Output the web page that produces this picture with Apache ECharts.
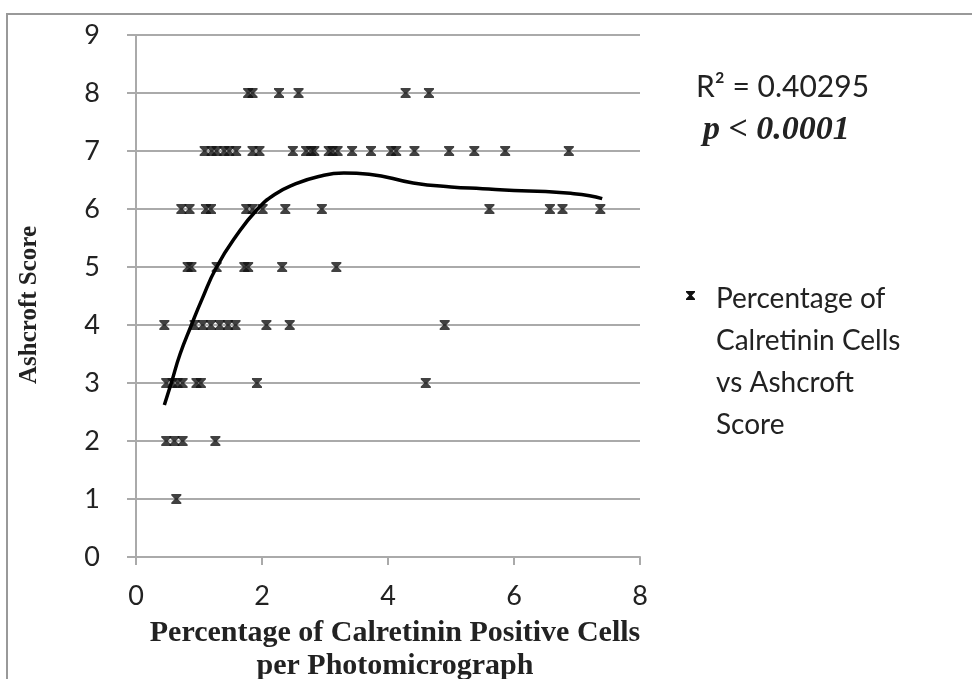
<!DOCTYPE html>
<html lang="en">
<head>
<meta charset="UTF-8" />
<title>Calretinin vs Ashcroft</title>
<script src="https://cdn.jsdelivr.net/npm/echarts@6.0.0/dist/echarts.min.js"></script>
<style>
  html, body { margin: 0; padding: 0; background: #fff; }
  #lienzo { width: 972px; height: 679px; }
</style>
</head>
<body>
<div id="lienzo"></div>
<script>
// percentage of calretinin positive cells, grouped by ashcroft score
const score8 = [1.78, 1.85, 2.27, 2.58, 4.28, 4.65];
const score7 = [1.09, 1.2, 1.28, 1.4, 1.48, 1.59, 1.85, 1.96, 2.49, 2.7, 2.78, 2.83, 3.06, 3.12, 3.2, 3.43, 3.73, 4.05, 4.13, 4.42, 4.97, 5.37, 5.86, 6.87];
const score6 = [0.72, 0.85, 1.11, 1.19, 1.75, 1.85, 2.01, 2.37, 2.95, 5.61, 6.57, 6.77, 7.37];
const score5 = [0.82, 0.88, 1.28, 1.72, 1.78, 2.32, 3.18];
const score4 = [0.45, 0.93, 1.06, 1.19, 1.33, 1.46, 1.58, 2.07, 2.44, 4.9];
const score3 = [0.48, 0.58, 0.66, 0.74, 0.96, 1.03, 1.92, 4.6];
const score2 = [0.48, 0.61, 0.74, 1.26];
const score1 = [0.64];

// trend line
const trendX = [0.45, 0.56, 0.7, 0.88, 1.05, 1.28, 1.6, 1.93, 2.2, 2.5, 2.9, 3.3, 3.7, 4.4, 5.0, 5.5, 6.0, 6.5, 6.9, 7.2, 7.4];
const trendY = [2.62, 3.0, 3.5, 4.0, 4.45, 5.0, 5.55, 6.0, 6.25, 6.42, 6.56, 6.62, 6.6, 6.45, 6.38, 6.35, 6.32, 6.3, 6.27, 6.23, 6.18];

const xTicks = [0, 2, 4, 6, 8];
const yTicks = [0, 1, 2, 3, 4, 5, 6, 7, 8, 9];

const grupos = [[8, score8], [7, score7], [6, score6], [5, score5], [4, score4], [3, score3], [2, score2], [1, score1]];
let puntos = [];
grupos.forEach(([y, xs]) => xs.forEach(x => puntos.push([x, y])));
const tendencia = trendX.map((x, i) => [x, trendY[i]]);

const marca = 'path://M0,0 L10,0 L10,1.5 L6.5,5 L10,8.5 L10,10 L0,10 L0,8.5 L3.5,5 L0,1.5 Z';
const gris = '#aaaaaa';

// hourglass for the hand-made legend
const lx = 686, ly = 291, s = 0.9;
const relojArena = [[0,0],[10,0],[10,1.5],[6.5,5],[10,8.5],[10,10],[0,10],[0,8.5],[3.5,5],[0,1.5]]
  .map(p => [lx + p[0] * s, ly + p[1] * s]);

let myChart = echarts.init(document.getElementById('lienzo'));
myChart.setOption({
  animation: false,
  grid: { left: 136, right: 332, top: 35, bottom: 122, containLabel: false, outerBoundsMode: 'none' },
  xAxis: {
    type: 'value',
    min: xTicks[0], max: xTicks[xTicks.length - 1], interval: 2,
    name: 'Percentage of Calretinin Positive Cells\nper Photomicrograph',
    nameLocation: 'center',
    nameGap: 60,
    nameTextStyle: { fontFamily: 'Liberation Serif', fontWeight: 'bold', fontSize: 30, color: '#222', lineHeight: 33, padding: [0, 0, 0, 14] },
    axisLine: { lineStyle: { color: gris, width: 2 } },
    axisTick: { show: true, length: 8, lineStyle: { color: gris, width: 2 } },
    axisLabel: { fontFamily: 'Lato', fontSize: 27, color: '#222', margin: 26 },
    splitLine: { show: false }
  },
  yAxis: {
    type: 'value',
    min: yTicks[0], max: yTicks[yTicks.length - 1], interval: 1,
    name: 'Ashcroft Score',
    nameLocation: 'center',
    nameGap: 94,
    nameTextStyle: { fontFamily: 'Liberation Serif', fontWeight: 'bold', fontSize: 25, color: '#222', padding: [0, 18, 0, 0] },
    axisLine: { show: true, lineStyle: { color: gris, width: 2 } },
    axisTick: { show: true, length: 9, lineStyle: { color: gris, width: 2 } },
    axisLabel: { fontFamily: 'Lato', fontSize: 27, color: '#222', margin: 36 },
    splitLine: { show: true, lineStyle: { color: gris, width: 2 } }
  },
  series: [
    {
      name: 'Percentage of Calretinin Cells vs Ashcroft Score',
      type: 'scatter',
      data: puntos,
      symbol: marca,
      symbolSize: [10, 10],
      itemStyle: { color: '#111' },
      z: 3
    },
    {
      name: 'tendencia',
      type: 'line',
      data: tendencia,
      smooth: true,
      showSymbol: false,
      lineStyle: { color: '#000', width: 3.5 },
      z: 4
    }
  ],
  graphic: [
    { type: 'rect', shape: { x: 7, y: 14, width: 1000, height: 700 }, style: { fill: 'none', stroke: '#999', lineWidth: 2 }, silent: true },
    { type: 'text', x: 696, y: 72, style: { text: 'R² = 0.40295', font: '30px Lato', fill: '#222' } },
    { type: 'text', x: 703, y: 113, style: { text: 'p < 0.0001', font: 'italic bold 34px "Liberation Serif"', fill: '#222' } },
    { type: 'polygon', shape: { points: relojArena }, style: { fill: '#111' } },
    { type: 'text', x: 716, y: 278, style: { text: 'Percentage of\nCalretinin Cells\nvs Ashcroft\nScore', font: '28px Lato', lineHeight: 42, fill: '#222' } }
  ]
});
</script>
</body>
</html>
